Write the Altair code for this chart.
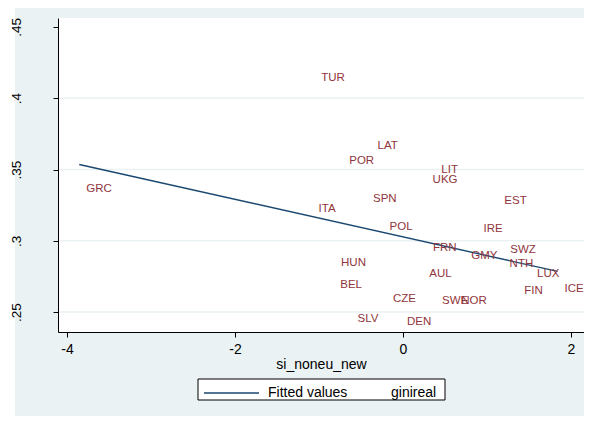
import altair as alt
import pandas as pd

# Country labels and values
countries = ["GRC", "TUR", "LAT", "POR", "LIT", "UKG", "SPN", "ITA", "EST", "POL",
             "IRE", "FRN", "GMY", "SWZ", "NTH", "HUN", "AUL", "LUX", "BEL", "FIN",
             "ICE", "CZE", "SWE", "NOR", "SLV", "DEN"]
si_noneu_new = [-3.854, -1.056, -0.386, -0.723, 0.373, 0.269, -0.440, -1.088, 1.123, -0.243,
                0.876, 0.274, 0.730, 1.194, 1.186, -0.821, 0.230, 1.512, -0.830, 1.361,
                1.840, -0.202, 0.381, 0.611, -0.624, -0.036]
ginireal = [0.3365, 0.4143, 0.3668, 0.3563, 0.3498, 0.3428, 0.3294, 0.3224, 0.3276, 0.3100,
            0.3082, 0.2946, 0.2895, 0.2932, 0.2839, 0.2844, 0.2769, 0.2769, 0.2687, 0.2645,
            0.2664, 0.2593, 0.2579, 0.2579, 0.2451, 0.2427]

# Fitted line end points
fit_x = [-3.854, 1.840]
fit_y = [0.3535, 0.2785]

x_ticks = [-4, -2, 0, 2]
y_ticks = [0.25, 0.30, 0.35, 0.40, 0.45]
grid_vals = [0.25, 0.30, 0.35, 0.40]

BG = "#EAF2F3"
NAVY = "#1A476F"
MAROON = "#90353B"
FONT = "Liberation Sans"

W, H = 526, 314

pts = pd.DataFrame({"country": countries, "x": si_noneu_new, "y": ginireal})
fit = pd.DataFrame({"x": fit_x, "y": fit_y})
grid = pd.DataFrame({"g": grid_vals})
one = pd.DataFrame({"a": [0]})

xscale = alt.Scale(domain=[-4.107, 2.155], nice=False, zero=False)
yscale = alt.Scale(domain=[0.236, 0.4563], nice=False, zero=False)

xaxis = alt.Axis(values=x_ticks, title="si_noneu_new", grid=False, zindex=1,
                 labelExpr="'' + datum.value",
                 labelFont=FONT, labelFontSize=14, labelColor="black",
                 titleFont=FONT, titleFontSize=14, titleFontWeight="normal", titleColor="black",
                 tickSize=5, labelPadding=5, titlePadding=1, domainColor="black",
                 tickColor="black", labelFlush=False)
yaxis = alt.Axis(values=y_ticks, title=None, grid=False, zindex=1,
                 labelExpr="substring(format(datum.value, '.2~f'), 1)",
                 labelAngle=270, labelAlign="center", labelBaseline="bottom",
                 labelFont=FONT, labelFontSize=13.5, labelColor="black",
                 tickSize=5, labelPadding=30, domainColor="black", tickColor="black",
                 labelFlush=False)

bg = alt.Chart(one).mark_rect(fill=BG).encode(
    x=alt.value(-43), x2=alt.value(W), y=alt.value(-10), y2=alt.value(398))
plotbg = alt.Chart(one).mark_rect(fill="white").encode(
    x=alt.value(0), x2=alt.value(W), y=alt.value(0), y2=alt.value(H))
gridl = alt.Chart(grid).mark_rule(color=BG, strokeWidth=1.5).encode(
    y=alt.Y("g:Q", scale=yscale, axis=yaxis), x=alt.value(0), x2=alt.value(W))
line = alt.Chart(fit).mark_line(color=NAVY, strokeWidth=1.4).encode(
    x=alt.X("x:Q", scale=xscale, axis=xaxis), y=alt.Y("y:Q", scale=yscale))
labels = alt.Chart(pts).mark_text(align="left", baseline="middle", dx=7,
                                  font=FONT, fontSize=11.5, color=MAROON).encode(
    x=alt.X("x:Q", scale=xscale), y=alt.Y("y:Q", scale=yscale), text="country:N")

# Legend box (drawn by hand, as in the reference)
leg_box = alt.Chart(one).mark_rect(fill="white", stroke="black", strokeWidth=1).encode(
    x=alt.value(140), x2=alt.value(387), y=alt.value(361), y2=alt.value(382))
leg_rule = alt.Chart(one).mark_rule(color=NAVY, strokeWidth=1.4).encode(
    x=alt.value(146), x2=alt.value(201), y=alt.value(375))
leg_t1 = alt.Chart(one).mark_text(text="Fitted values", align="left", baseline="middle",
                                  font=FONT, fontSize=14, color="black").encode(
    x=alt.value(210), y=alt.value(375))
leg_t2 = alt.Chart(one).mark_text(text="ginireal", align="left", baseline="middle",
                                  font=FONT, fontSize=14, color="black").encode(
    x=alt.value(333), y=alt.value(375))

chart = alt.layer(bg, plotbg, gridl, line, labels, leg_box, leg_rule, leg_t1, leg_t2).properties(
    width=W, height=H,
    autosize=alt.AutoSizeParams(type="none"),
    padding={"left": 50, "top": 10, "right": 0, "bottom": 84},
).configure(background="white").configure_view(stroke=None)

chart.save("out.html", embed_options={"renderer": "svg", "actions": False})
